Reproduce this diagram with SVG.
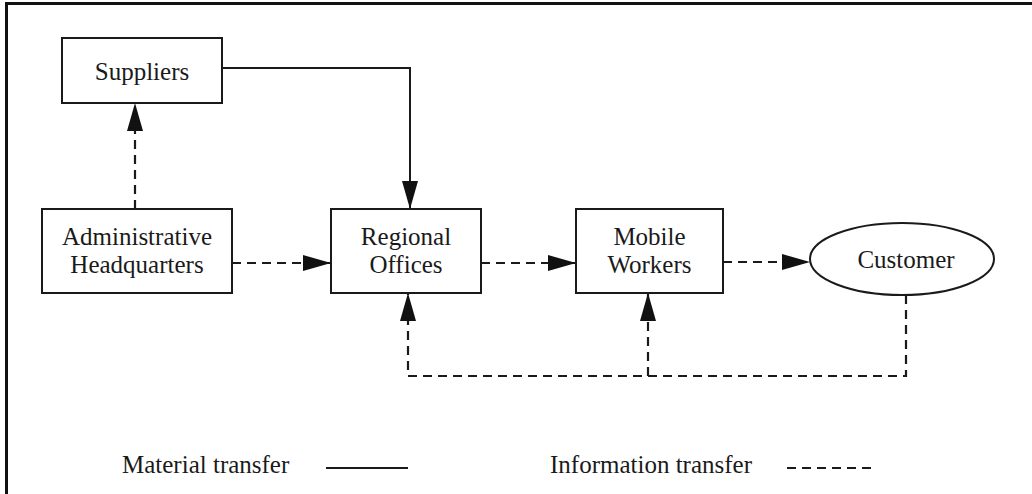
<svg xmlns="http://www.w3.org/2000/svg" width="1032" height="494" viewBox="0 0 1032 494">
<style>
.box{fill:#fff;stroke:#1a1a1a;stroke-width:2}
text{font-family:'Liberation Serif','Tinos','Times New Roman','DejaVu Serif',serif;font-size:25px;fill:#1a1a1a}
.t{text-anchor:middle}
.solid{fill:none;stroke:#1a1a1a;stroke-width:2}
.dash{fill:none;stroke:#1a1a1a;stroke-width:2.2;stroke-dasharray:9 6}
.frame{fill:none;stroke:#111;stroke-width:3}
</style>
<defs>
<marker id="ah" viewBox="0 0 28 16" refX="28" refY="8" markerWidth="28" markerHeight="16" markerUnits="userSpaceOnUse" orient="auto">
<path d="M0,0 L28,8 L0,16 Z" fill="#111"/>
</marker>
</defs>
<rect width="1032" height="494" fill="#fff"/>
<path class="frame" d="M6.5,494 V3.5 H1032"/>
<g id="connectors">
<path class="solid" d="M222,68 H410 V209" marker-end="url(#ah)"/>
<path class="dash" d="M135,209 V103" marker-end="url(#ah)"/>
<path class="dash" d="M232,263 H331" marker-end="url(#ah)"/>
<path class="dash" d="M481,263 H576" marker-end="url(#ah)"/>
<path class="dash" d="M723,262 H810" marker-end="url(#ah)"/>
<path class="dash" d="M906,295 V376 H408 V293" marker-end="url(#ah)"/>
<path class="dash" d="M648,376 V293" marker-end="url(#ah)"/>
</g>
<g id="suppliers">
<rect class="box" x="62" y="38" width="160" height="65"/>
<text class="t" x="142" y="80" font-family="Liberation Serif, serif">Suppliers</text>
</g>
<g id="admin-hq">
<rect class="box" x="42" y="209" width="190" height="84"/>
<text class="t" x="137" y="245" font-family="Liberation Serif, serif">Administrative</text>
<text class="t" x="137" y="273" font-family="Liberation Serif, serif">Headquarters</text>
</g>
<g id="regional-offices">
<rect class="box" x="331" y="209" width="150" height="84"/>
<text class="t" x="406" y="245" font-family="Liberation Serif, serif">Regional</text>
<text class="t" x="406" y="273" font-family="Liberation Serif, serif">Offices</text>
</g>
<g id="mobile-workers">
<rect class="box" x="576" y="209" width="147" height="84"/>
<text class="t" x="649.5" y="245" font-family="Liberation Serif, serif">Mobile</text>
<text class="t" x="649.5" y="273" font-family="Liberation Serif, serif">Workers</text>
</g>
<g id="customer">
<ellipse class="box" cx="902" cy="259" rx="92" ry="36"/>
<text class="t" x="906" y="268" font-family="Liberation Serif, serif">Customer</text>
</g>
<g id="legend">
<text x="122" y="473" font-family="Liberation Serif, serif">Material transfer</text>
<line class="solid" x1="326" y1="468" x2="408" y2="468"/>
<text x="550" y="473" font-family="Liberation Serif, serif">Information transfer</text>
<line class="dash" x1="787" y1="468" x2="872" y2="468"/>
</g>
</svg>
